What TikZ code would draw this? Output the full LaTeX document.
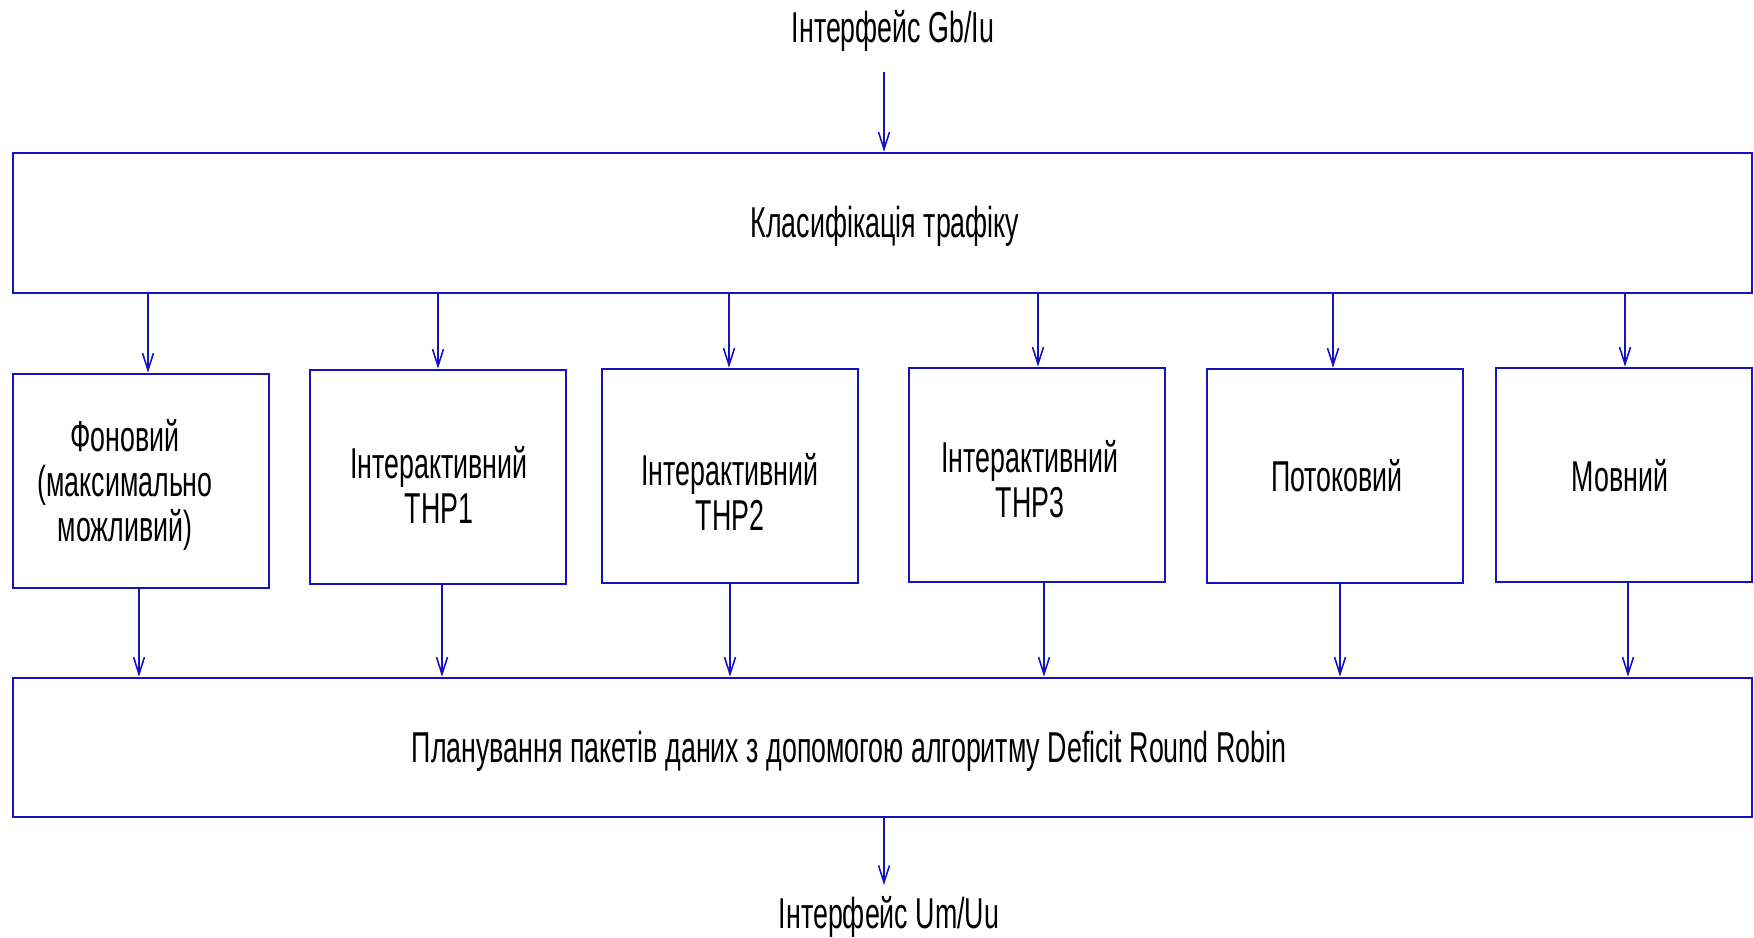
\documentclass[tikz,border=0pt]{standalone}
\usepackage{fontspec}
\setmainfont{Liberation Sans}[FakeStretch=0.62]
\usetikzlibrary{arrows.meta}

\definecolor{lineblue}{RGB}{20,20,190}

\tikzset{
  box/.style={draw=lineblue, line width=0.75pt, inner sep=0pt},
  wide/.style={box, minimum width=173.9mm, minimum height=14mm},
  cell/.style={box, minimum width=25.6mm, minimum height=21.4mm},
  txt/.style={align=center, inner sep=0pt, font=\fontsize{12.3}{12.8}\selectfont},
  arr/.style={draw=lineblue, line width=0.45pt, -{Straight Barb[length=1.7mm,width=1.1mm]}}
}

\begin{document}
\begin{tikzpicture}[x=0.1mm, y=-0.1mm]
\useasboundingbox (0,0) rectangle (1754,938);

\coordinate (in) at (884,72);
\coordinate (out) at (884,885);

\node[txt, anchor=base] (gb) at (893,43) {Інтерфейс Gb/Iu};
\node[txt, anchor=base] (um) at (889,928) {Інтерфейс Um/Uu};

\node[wide] (cls) at (882.5,223) {};
\node[txt, anchor=base] (tcls) at (885,238) {Класифікація трафіку};

\node[cell] (b1) at (141,481) {};
\node[cell] (b2) at (438,477) {};
\node[cell] (b3) at (730,476) {};
\node[cell] (b4) at (1037,475) {};
\node[cell] (b5) at (1335,476) {};
\node[cell] (b6) at (1624,475) {};

\node[txt] (t1) at (125,485) {Фоновий\\(максимально\\можливий)};
\node[txt] (t2) at (439,485) {Інтерактивний\\ТНР1};
\node[txt] (t3) at (730,492) {Інтерактивний\\ТНР2};
\node[txt] (t4) at (1030,479) {Інтерактивний\\ТНР3};
\node[txt, anchor=base] (t5) at (1337,492) {Потоковий};
\node[txt, anchor=base] (t6) at (1620,492) {Мовний};

\node[wide, minimum height=13.9mm] (plan) at (882.5,747.5) {};
\node[txt, anchor=base] (tplan) at (849,762) {Планування пакетів даних з допомогою алгоритму Deficit Round Robin};

% input / output
\draw[arr] (in) -- (in |- cls.north);
\draw[arr] (out |- plan.south) -- (out);

% classifier to queues
\draw[arr] ([xshift=0.7mm]b1.north |- cls.south) -- ([xshift=0.7mm]b1.north);
\draw[arr] (b2.north |- cls.south) -- (b2.north);
\draw[arr] ([xshift=-0.1mm]b3.north |- cls.south) -- ([xshift=-0.1mm]b3.north);
\draw[arr] ([xshift=0.1mm]b4.north |- cls.south) -- ([xshift=0.1mm]b4.north);
\draw[arr] ([xshift=-0.2mm]b5.north |- cls.south) -- ([xshift=-0.2mm]b5.north);
\draw[arr] ([xshift=0.1mm]b6.north |- cls.south) -- ([xshift=0.1mm]b6.north);

% queues to scheduler
\draw[arr] ([xshift=-0.2mm]b1.south) -- ([xshift=-0.2mm]b1.south |- plan.north);
\draw[arr] ([xshift=0.4mm]b2.south) -- ([xshift=0.4mm]b2.south |- plan.north);
\draw[arr] (b3.south) -- (b3.south |- plan.north);
\draw[arr] ([xshift=0.7mm]b4.south) -- ([xshift=0.7mm]b4.south |- plan.north);
\draw[arr] ([xshift=0.5mm]b5.south) -- ([xshift=0.5mm]b5.south |- plan.north);
\draw[arr] ([xshift=0.4mm]b6.south) -- ([xshift=0.4mm]b6.south |- plan.north);

\end{tikzpicture}
\end{document}
